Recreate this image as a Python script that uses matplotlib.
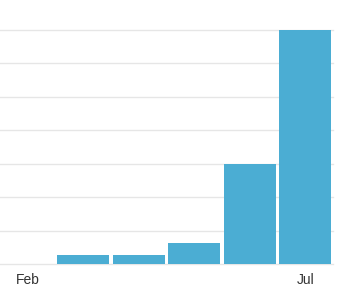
import matplotlib
matplotlib.use("Agg")
import matplotlib.pyplot as plt

months = ["Feb", "Mar", "Apr", "May", "Jun", "Jul"]
values = [0, 0.27, 0.27, 0.64, 3.0, 7.0]
tick_labels = {0: "Feb", 5: "Jul"}

W, H = 358, 295
fig = plt.figure(figsize=(W / 100, H / 100), dpi=100)
left, right, top, bottom = 0, 333, 29.5, 264
ax = fig.add_axes([left / W, 1 - bottom / H, (right - left) / W, (bottom - top) / H])

x = list(range(len(months)))
ax.bar(x, values, width=0.93, color="#4badd3", edgecolor="none", zorder=3)
ax.set_xlim(-0.5, len(months) - 0.5)
ax.set_ylim(0, 7)
ax.set_yticks(range(0, 8))
ax.yaxis.grid(True, color="#e6e6e6", linewidth=1, clip_on=False)
ax.set_yticklabels([])
ax.tick_params(axis="y", length=0)
ax.set_xticks(list(tick_labels.keys()))
ax.set_xticklabels(list(tick_labels.values()), fontsize=10, color="#333333",
                   family=["Liberation Sans", "DejaVu Sans"])
ax.tick_params(axis="x", length=0, pad=6.5)
for s in ax.spines.values():
    s.set_visible(False)
ax.set_axisbelow(True)

fig.savefig("out.png", dpi=100)
